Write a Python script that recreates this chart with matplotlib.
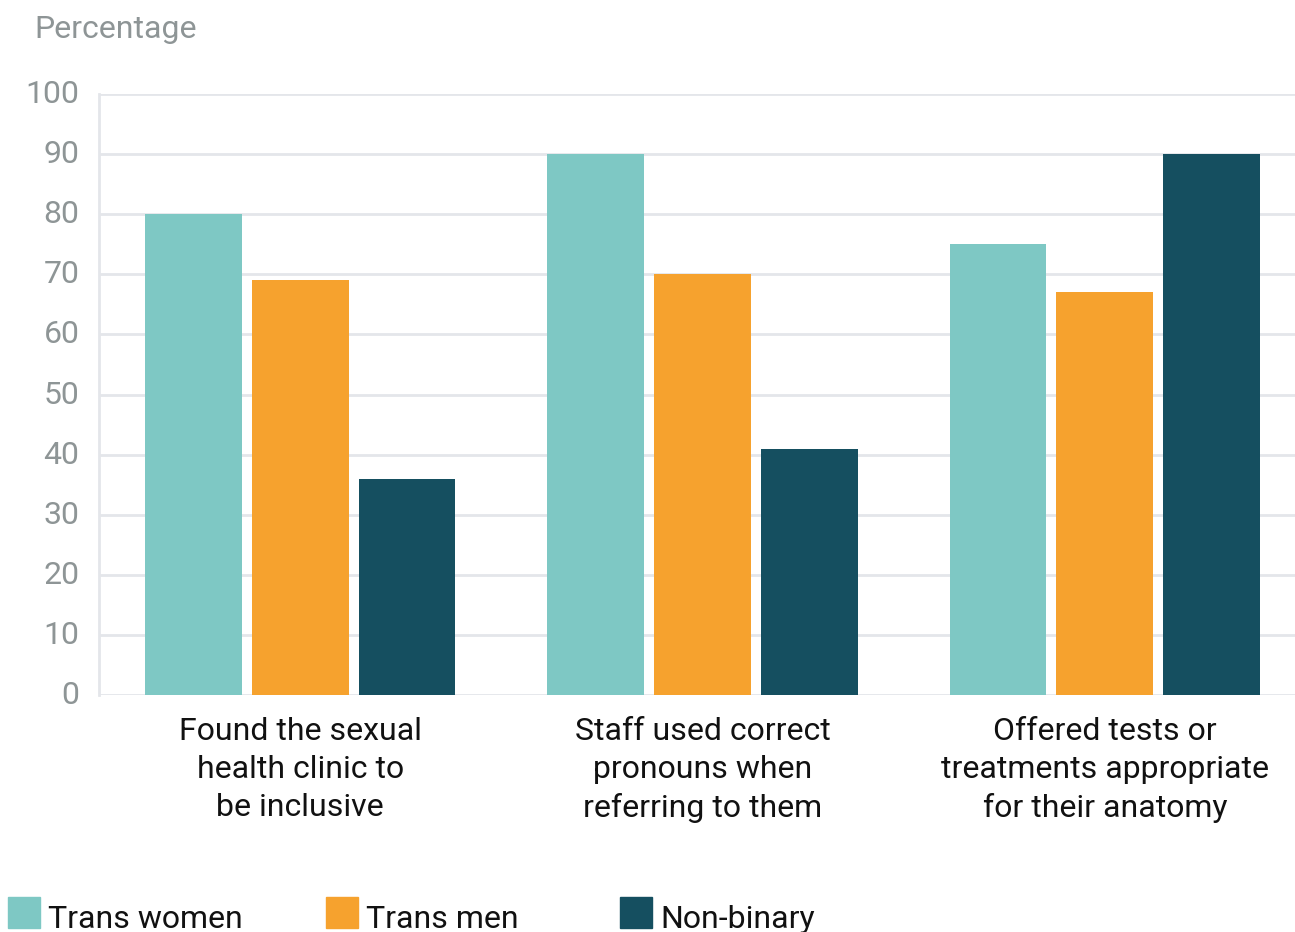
import matplotlib
matplotlib.use("Agg")
import matplotlib.pyplot as plt
import matplotlib.transforms as mtransforms
from matplotlib.patches import Rectangle
import numpy as np

plt.rcParams['font.family'] = ['Roboto', 'DejaVu Sans']

categories = [
    "Found the sexual\nhealth clinic to\nbe inclusive",
    "Staff used correct\npronouns when\nreferring to them",
    "Offered tests or\ntreatments appropriate\nfor their anatomy",
]
series_names = ["Trans women", "Trans men", "Non-binary"]
trans_women = [80, 90, 75]
trans_men = [69, 70, 67]
non_binary = [36, 41, 90]
yticks = [0, 10, 20, 30, 40, 50, 60, 70, 80, 90, 100]

colors = ["#7ec8c4", "#f6a22e", "#154f60"]
grid_color = "#e4e6ea"
tick_color = "#8e9596"

W, H = 1295, 932
fig = plt.figure(figsize=(W / 100, H / 100), dpi=100)
# axes in pixel units: left 99, right ~1306 (runs past the edge), top 94, bottom 695
ax = fig.add_axes([99 / W, (H - 695) / H, (1306 - 99) / W, (695 - 94) / H])

x = np.arange(len(categories))
width = 0.2407
step = 0.2655
for i, (vals, c) in enumerate(zip([trans_women, trans_men, non_binary], colors)):
    ax.bar(x + (i - 1) * step, vals, width=width, color=c, zorder=3)

ax.set_xlim(-0.5, 2.5)
ax.set_ylim(0, 100)
ax.set_yticks(yticks)
ax.set_yticklabels([str(t) for t in yticks], fontsize=23, color=tick_color)
ax.yaxis.grid(True, color=grid_color, linewidth=2, zorder=0)
ax.set_axisbelow(True)
ax.tick_params(axis='y', length=0, pad=14)
ax.tick_params(axis='x', length=0, pad=16)
ax.set_xticks(x)
ax.set_xticklabels(categories, fontsize=23, color="#111111", linespacing=1.38)
for s in ["top", "right", "bottom"]:
    ax.spines[s].set_visible(False)
ax.spines["left"].set_color(grid_color)
ax.spines["left"].set_linewidth(2)

# nudge the y tick labels slightly above their gridlines
lift = mtransforms.ScaledTranslation(0, 2.5 / 100, fig.dpi_scale_trans)
for lbl in ax.get_yticklabels():
    lbl.set_transform(lbl.get_transform() + lift)

fig.text(34 / W, 1 - 38 / H, "Percentage", fontsize=23, color=tick_color,
         ha="left", va="baseline")

# legend row along the bottom edge
legend_x = [8, 326, 620]
for lx, name, c in zip(legend_x, series_names, colors):
    fig.patches.append(Rectangle((lx / W, (H - 928) / H), 32 / W, 31 / H,
                                 transform=fig.transFigure, color=c))
    fig.text((lx + 40) / W, 1 - 928 / H, name, fontsize=23, color="#111111",
             ha="left", va="baseline")

fig.savefig("out.png", dpi=100)
